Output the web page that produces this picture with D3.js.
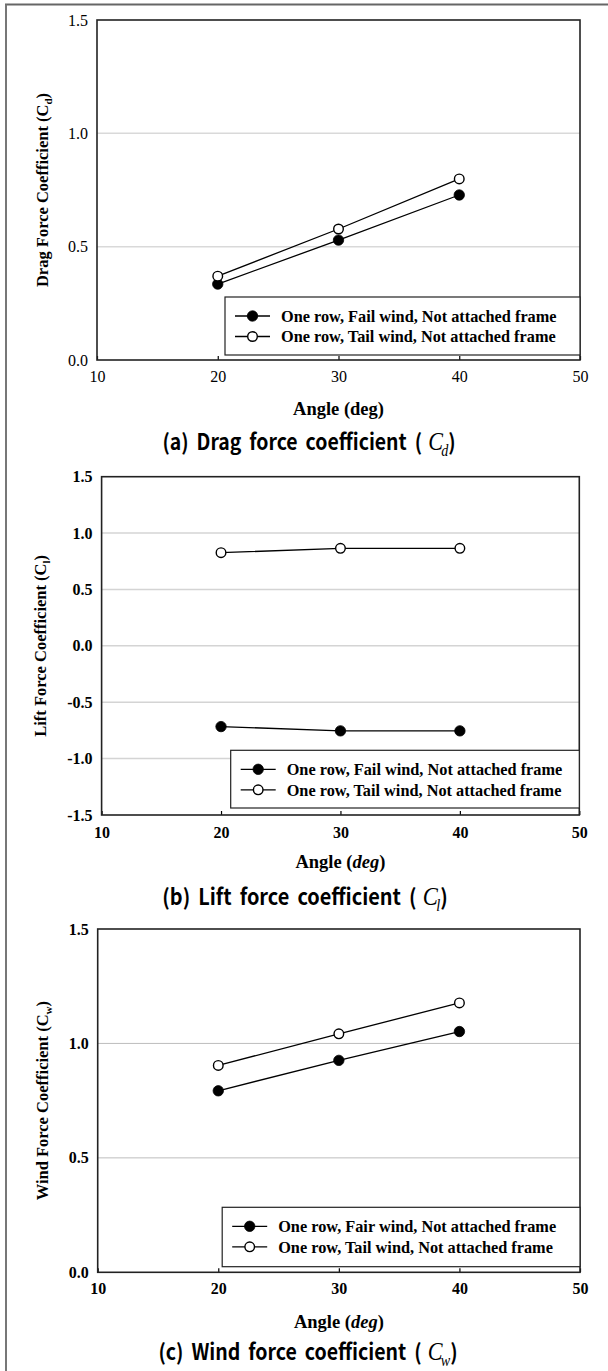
<!DOCTYPE html>
<html>
<head>
<meta charset="utf-8">
<script src="https://cdn.jsdelivr.net/npm/d3@7"></script>
<style>
  html, body { margin: 0; padding: 0; background: #fff; }
  svg { display: block; }
</style>
</head>
<body>
<svg id="chart" width="608" height="1371"></svg>
<script>
// ---------------- DATA ----------------
const angles = [20, 30, 40];
const xTicks = [10, 20, 30, 40, 50];

const dragFail = [0.335, 0.529, 0.728];
const dragTail = [0.370, 0.578, 0.799];

const liftFail = [-0.716, -0.754, -0.754];
const liftTail = [0.826, 0.865, 0.865];

const windFair = [0.793, 0.926, 1.052];
const windTail = [0.904, 1.042, 1.177];

const yTicksPos = [0, 0.5, 1.0, 1.5];
const yTicksLift = [-1.5, -1.0, -0.5, 0, 0.5, 1.0, 1.5];

const legendDrag = ["One row, Fail wind, Not attached frame", "One row, Tail wind, Not attached frame"];
const legendLift = ["One row, Fail wind, Not attached frame", "One row, Tail wind, Not attached frame"];
const legendWind = ["One row, Fair wind, Not attached frame", "One row, Tail wind, Not attached frame"];

// ---------------- LAYOUT ----------------
const SERIF = "'Liberation Serif', 'Times New Roman', serif";
const SANS = "'Noto Sans CJK KR', 'Noto Sans', sans-serif";

const panels = [
  { left: 97, right: 580, top: 20, bottom: 360, yDomain: [0, 1.5], yTicks: yTicksPos,
    fail: dragFail, tail: dragTail, legend: legendDrag, tickBold: false,
    yLabel: ["Drag Force Coefficient (C", "d", ")"], yLabelX: 42,
    xTitleItalic: false, xTickY: 378, xTitleY: 409,
    caption: ["(a) Drag force coefficient (", "C", "d", ")"], captionY: 442, captionW: 289, captionX: 309,
    legendBox: { x: 225, y: 297, w: 355, h: 58 }, gridColor: "#d9d9d9", gridWidth: 1.5 },
  { left: 101.6, right: 579.3, top: 476.7, bottom: 815, yDomain: [-1.5, 1.5], yTicks: yTicksLift,
    fail: liftFail, tail: liftTail, legend: legendLift, tickBold: true,
    yLabel: ["Lift Force Coefficient (C", "l", ")"], yLabelX: 40,
    xTitleItalic: true, xTickY: 834, xTitleY: 862,
    caption: ["(b) Lift force coefficient (", "C", "l", ")"], captionY: 897, captionW: 281, captionX: 305,
    legendBox: { x: 230.7, y: 750.3, w: 348.6, h: 57.7 }, gridColor: "#d4d4d4", gridWidth: 1.5 },
  { left: 97.7, right: 580, top: 929, bottom: 1272.3, yDomain: [0, 1.5], yTicks: yTicksPos,
    fail: windFair, tail: windTail, legend: legendWind, tickBold: true,
    yLabel: ["Wind Force Coefficient (C", "w", ")"], yLabelX: 42,
    xTitleItalic: true, xTickY: 1290, xTitleY: 1322,
    caption: ["(c) Wind force coefficient (", "C", "w", ")"], captionY: 1352, captionW: 295, captionX: 308,
    legendBox: { x: 222.2, y: 1207.3, w: 357.8, h: 59.4 }, gridColor: "#bdbdbd", gridWidth: 1 }
];

const svg = d3.select("#chart");

// outer frame (top and left edges visible)
svg.append("line").attr("x1", 5).attr("x2", 608).attr("y1", 4.5).attr("y2", 4.5)
  .attr("stroke", "#666").attr("stroke-width", 2);
svg.append("line").attr("x1", 6).attr("x2", 6).attr("y1", 4.5).attr("y2", 1371)
  .attr("stroke", "#777").attr("stroke-width", 2);

panels.forEach(p => {
  const g = svg.append("g");
  const x = d3.scaleLinear().domain([10, 50]).range([p.left, p.right]);
  const y = d3.scaleLinear().domain(p.yDomain).range([p.bottom, p.top]);
  const tickWeight = p.tickBold ? "bold" : "normal";

  // gridlines at interior ticks
  g.append("g").selectAll("line")
    .data(p.yTicks.filter(t => t > p.yDomain[0] && t < p.yDomain[1]))
    .join("line")
    .attr("x1", p.left).attr("x2", p.right)
    .attr("y1", d => y(d)).attr("y2", d => y(d))
    .attr("stroke", p.gridColor).attr("stroke-width", p.gridWidth);

  // y axis labels
  const yAxis = d3.axisLeft(y).tickValues(p.yTicks).tickSize(0).tickPadding(9)
    .tickFormat(d => d.toFixed(1));
  const ya = g.append("g").attr("transform", `translate(${p.left},0)`).call(yAxis);
  ya.select(".domain").remove();
  ya.selectAll("text").attr("font-family", SERIF).attr("font-size", 16)
    .attr("font-weight", tickWeight).attr("fill", "#000");

  // x axis: inward ticks
  const xAxis = d3.axisBottom(x).tickValues(xTicks).tickSizeInner(-4).tickSizeOuter(0)
    .tickPadding(p.xTickY - p.bottom - 7).tickFormat(d3.format("d"));
  const xa = g.append("g").attr("transform", `translate(0,${p.bottom})`).call(xAxis);
  xa.select(".domain").remove();
  xa.selectAll(".tick line").attr("stroke", "#000").attr("stroke-width", 1.2);
  xa.selectAll("text").attr("font-family", SERIF).attr("font-size", 16)
    .attr("font-weight", tickWeight).attr("fill", "#000");

  // plot frame
  g.append("rect").attr("x", p.left).attr("y", p.top)
    .attr("width", p.right - p.left).attr("height", p.bottom - p.top)
    .attr("fill", "none").attr("stroke", "#222").attr("stroke-width", 1.6);

  // series
  const line = d3.line().x((d, i) => x(angles[i])).y(d => y(d));
  const series = [
    { vals: p.fail, filled: true },
    { vals: p.tail, filled: false }
  ];
  series.forEach(s => {
    g.append("path").attr("d", line(s.vals)).attr("fill", "none")
      .attr("stroke", "#000").attr("stroke-width", 1.3);
    g.append("g").selectAll("circle").data(s.vals).join("circle")
      .attr("cx", (d, i) => x(angles[i])).attr("cy", d => y(d))
      .attr("r", s.filled ? 5.2 : 4.8)
      .attr("fill", s.filled ? "#000" : "#fff")
      .attr("stroke", "#000").attr("stroke-width", s.filled ? 0.8 : 1.4);
  });

  // legend
  const lb = p.legendBox;
  g.append("rect").attr("x", lb.x).attr("y", lb.y).attr("width", lb.w).attr("height", lb.h)
    .attr("fill", "#fff").attr("stroke", "#222").attr("stroke-width", 1.2);
  p.legend.forEach((txt, i) => {
    const cy = lb.y + 19 + i * 20.5;
    const lx0 = lb.x + 10, lx1 = lb.x + 45;
    g.append("line").attr("x1", lx0).attr("x2", lx1).attr("y1", cy).attr("y2", cy)
      .attr("stroke", "#000").attr("stroke-width", 1.3);
    g.append("circle").attr("cx", (lx0 + lx1) / 2).attr("cy", cy)
      .attr("r", i === 0 ? 5.2 : 4.8)
      .attr("fill", i === 0 ? "#000" : "#fff")
      .attr("stroke", "#000").attr("stroke-width", i === 0 ? 0.8 : 1.4);
    g.append("text").attr("x", lb.x + 56).attr("y", cy).attr("dy", "0.35em")
      .attr("font-family", SERIF).attr("font-size", 16.3).attr("font-weight", "bold")
      .text(txt);
  });

  // x title
  const xt = g.append("text").attr("x", (p.left + p.right) / 2).attr("y", p.xTitleY)
    .attr("dy", "0.35em").attr("text-anchor", "middle")
    .attr("font-family", SERIF).attr("font-size", 18.5).attr("font-weight", "bold");
  if (p.xTitleItalic) {
    xt.append("tspan").text("Angle (");
    xt.append("tspan").attr("font-style", "italic").text("deg");
    xt.append("tspan").text(")");
  } else {
    xt.text("Angle (deg)");
  }

  // y title (rotated)
  const cyMid = (p.top + p.bottom) / 2;
  const yt = g.append("text")
    .attr("transform", `translate(${p.yLabelX},${cyMid}) rotate(-90)`)
    .attr("text-anchor", "middle").attr("dy", "0.35em")
    .attr("font-family", SERIF).attr("font-size", 16.5).attr("font-weight", "bold");
  yt.append("tspan").text(p.yLabel[0]);
  yt.append("tspan").attr("font-size", 11).attr("dy", 4).text(p.yLabel[1]);
  yt.append("tspan").attr("dy", -4).text(p.yLabel[2]);

  // caption (condensed bold sans, horizontally compressed to the reference width)
  const cg = g.append("g");
  const ct = cg.append("text").attr("x", 0).attr("y", 0).attr("dy", "0.35em")
    .attr("text-anchor", "middle")
    .attr("font-family", SANS).attr("font-size", 22).attr("font-weight", "bold")
    .attr("word-spacing", 4);
  ct.append("tspan").text(p.caption[0]);
  ct.append("tspan").attr("font-family", SERIF).attr("font-style", "italic")
    .attr("font-weight", "normal").attr("font-size", 25).attr("dx", 7).text(p.caption[1]);
  ct.append("tspan").attr("font-family", SERIF).attr("font-style", "italic")
    .attr("font-weight", "normal").attr("font-size", 16).attr("dx", -2).attr("dy", 6).text(p.caption[2]);
  ct.append("tspan").attr("dy", -6).text(p.caption[3]);
  const w = ct.node().getComputedTextLength();
  const sx = Math.min(1, p.captionW / w);
  cg.attr("transform", `translate(${p.captionX},${p.captionY}) scale(${sx},1)`);
});
</script>
</body>
</html>
